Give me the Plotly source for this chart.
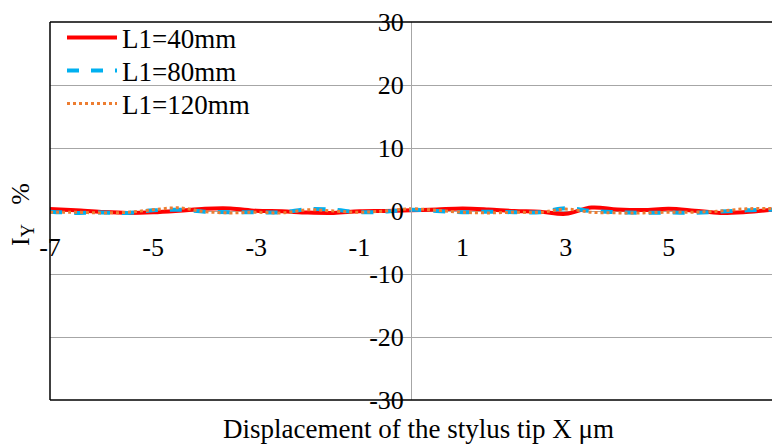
import plotly.graph_objects as go

x_um = [-7, -6.5, -6, -5.5, -5, -4.5, -4, -3.5, -3, -2.5, -2, -1.5, -1, -0.5, 0,
        0.5, 1, 1.5, 2, 2.5, 3, 3.5, 4, 4.5, 5, 5.5, 6, 6.5, 7]
iy_40 = [0.3, 0.1, -0.15, -0.3, -0.2, 0.05, 0.35, 0.4, 0.05, -0.05, -0.25, -0.3, -0.05, 0.0, 0.1,
         0.25, 0.4, 0.25, 0.0, -0.1, -0.45, 0.55, 0.25, 0.15, 0.35, 0.05, -0.3, -0.15, 0.2]
iy_80 = [-0.1, -0.3, -0.25, -0.3, 0.1, 0.2, -0.1, -0.2, -0.2, -0.2, 0.3, 0.2, -0.2, -0.1, 0.2,
         0.0, -0.2, -0.1, -0.2, -0.2, 0.45, 0.0, -0.2, -0.3, -0.25, -0.3, -0.1, 0.1, 0.2]
iy_120 = [-0.2, -0.2, -0.3, -0.2, 0.2, 0.5, -0.1, -0.3, -0.2, -0.3, 0.2, 0.0, -0.2, 0.0, 0.35,
          0.1, -0.2, -0.3, -0.2, -0.2, 0.3, -0.2, -0.3, -0.3, -0.2, -0.2, 0.0, 0.35, 0.4]
series_names = ["L1=40mm", "L1=80mm", "L1=120mm"]
x_ticks = [-7, -5, -3, -1, 1, 3, 5, 7]
y_ticks = [-30, -20, -10, 0, 10, 20, 30]

FONT = "Liberation Serif, Times New Roman, serif"
FS = 26
GRID = "#a6a6a6"

fig = go.Figure()
fig.add_trace(go.Scatter(x=x_um, y=iy_40, name=series_names[0], mode="lines", legend="legend",
                         line=dict(color="#ff0000", width=4, shape="spline")))
fig.add_trace(go.Scatter(x=x_um, y=iy_80, name=series_names[1], mode="lines", legend="legend2",
                         line=dict(color="#00b0f0", width=4, dash="dash", shape="spline")))
fig.add_trace(go.Scatter(x=x_um, y=iy_120, name=series_names[2], mode="lines", legend="legend3",
                         line=dict(color="#ed7d31", width=3, dash="dot", shape="spline")))

xr = [-7, 7]
leg = dict(x=(62 - 50) / 722, xanchor="left", yanchor="middle", bgcolor="rgba(0,0,0,0)",
           font=dict(size=27, family=FONT), itemwidth=50)
fig.update_layout(
    width=772, height=445,
    margin=dict(l=50, r=0, t=22, b=45),
    paper_bgcolor="white", plot_bgcolor="white",
    font=dict(family=FONT, size=FS, color="black"),
    showlegend=True,
    legend=dict(leg, y=(400 - 38) / 378),
    legend2=dict(leg, y=(400 - 71) / 378),
    legend3=dict(leg, y=(400 - 104) / 378),
    xaxis=dict(range=xr, tickvals=x_ticks, ticktext=[str(v) for v in x_ticks],
               showgrid=False, zeroline=False, showline=False, automargin=False,
               anchor="free", position=0.5, ticks="", ticklabelstandoff=18,
               tickfont=dict(size=FS, family=FONT)),
    yaxis=dict(range=[-30, 30], tickvals=y_ticks, ticktext=[str(v) for v in y_ticks],
               showgrid=True, gridcolor=GRID, gridwidth=1, zeroline=False,
               showline=True, linecolor=GRID, linewidth=1, automargin=False,
               anchor="free", position=(0 - xr[0]) / (xr[1] - xr[0]),
               ticks="", ticklabelstandoff=2,
               tickfont=dict(size=FS, family=FONT)),
    shapes=[
        dict(type="line", xref="x domain", yref="y domain", x0=0, x1=0, y0=0, y1=1,
             line=dict(color="black", width=1.5)),
        dict(type="line", xref="x domain", yref="y domain", x0=0, x1=1, y0=1, y1=1,
             line=dict(color="black", width=1.5)),
        dict(type="line", xref="x domain", yref="y domain", x0=0, x1=1, y0=0, y1=0,
             line=dict(color="black", width=1.5)),
    ],
    annotations=[
        dict(text="Displacement of the stylus tip X μm", xref="paper", yref="paper",
             x=(418 - 50) / 722, y=(400 - 429) / 378, xanchor="center", yanchor="middle",
             showarrow=False, font=dict(size=27, family=FONT)),
        dict(text="I<sub>Y</sub>   %", xref="paper", yref="paper",
             x=(22 - 50) / 722, y=(400 - 215) / 378, xanchor="center", yanchor="middle",
             showarrow=False, textangle=-90, font=dict(size=FS, family=FONT)),
    ],
)

fig.write_html("out.html", config={"displayModeBar": False},
               post_script="document.body.style.margin='0';")
